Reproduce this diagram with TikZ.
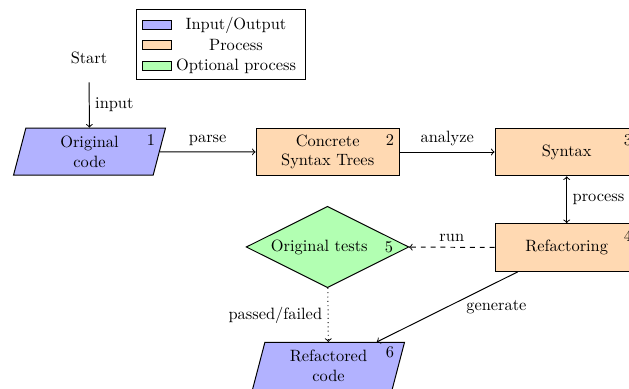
\documentclass[tikz,border=0pt]{standalone}
\usepackage{amsmath,amssymb}
\usepackage{tikz}
\usetikzlibrary{shapes.geometric, positioning}
\usepackage{xcolor}

\tikzset{
  iobox/.style={trapezium, trapezium left angle=72, trapezium right angle=108,
    trapezium stretches body, draw, fill=blue!30, minimum width=92.7pt,
    minimum height=28.7pt, align=center, inner sep=2pt},
  procbox/.style={rectangle, draw, fill=orange!30, minimum width=87.4pt,
    minimum height=29.1pt, align=center},
  optbox/.style={diamond, draw, fill=green!30, aspect=2, minimum width=98.6pt,
    minimum height=49.2pt, inner sep=2pt},
  num/.style={inner sep=0pt},
  swatch/.style={draw, minimum width=17.7pt, minimum height=5.3pt, inner sep=0pt},
}

\begin{document}
\begin{tikzpicture}[x=0.61pt,y=0.61pt,yscale=-1,xscale=1,semithick]
\useasboundingbox (0,0) rectangle (629,389);

% Legend
\draw (136,9.3) rectangle (305.7,79);
\node[swatch, fill=blue!30] (sw1) at (157.2,25) {};
\node[swatch, fill=orange!30] (sw2) at (157.2,45) {};
\node[swatch, fill=green!30] (sw3) at (157.2,66) {};
\node (lg1) at (236,25) {Input/Output};
\node (lg2) at (236,45) {Process};
\node (lg3) at (236,66) {Optional process};

% Start
\node[minimum height=29.1pt] (start) at (89,58) {Start};

% Shapes
\node[iobox] (orig) at (89.5,151.7) {Original\\code};
\node[procbox] (cst) at (327.7,152) {Concrete\\Syntax Trees};
\node[procbox] (syn) at (566.7,152) {Syntax};
\node[procbox] (refac) at (566.7,247.5) {Refactoring};
\node[optbox] (tests) at (327.5,247) {Original tests\phantom{00}};
\node[iobox] (outc) at (328.5,366) {Refactored\\code};

% Numbers
\node[num] (n1) at (151,140.5) {1};
\node[num] (n2) at (390,140) {2};
\node[num] (n3) at (628,140) {3};
\node[num] (n4) at (628,235.5) {4};
\node[num] (n5) at (389,247) {5};
\node[num] (n6) at (390,352) {6};

% Connectors
\draw[->] (start) -- (orig) node[midway, right] {input};
\draw[->] (orig) -- (cst) node[midway, above] {parse};
\draw[->] (cst) -- (syn) node[midway, above] {analyze};
\draw[<->] (syn) -- (refac) node[midway, right] {process};
\draw[->, dashed] (refac) -- (tests) node[midway, above] {run};
\draw[->, dotted] (tests) -- (outc) node[midway, left] {passed/failed};
\draw[->] (refac) -- (outc) node[midway, right=8pt] {generate};
\end{tikzpicture}
\end{document}
